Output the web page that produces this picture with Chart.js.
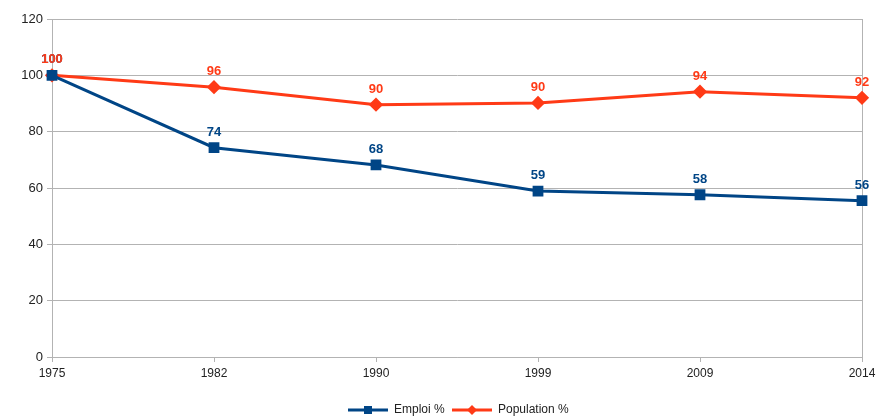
<!DOCTYPE html>
<html>
<head>
<meta charset="utf-8">
<script src="https://cdn.jsdelivr.net/npm/chart.js@4"></script>
<style>
  html, body { margin: 0; padding: 0; background: #fff; }
  #wrap { width: 881px; height: 417px; }
</style>
</head>
<body>
<div id="wrap"><canvas id="myChart" width="881" height="417"></canvas></div>
<script>
const years = ['1975', '1982', '1990', '1999', '2009', '2014'];
const emploi = [100, 74.3, 68.2, 58.9, 57.6, 55.5];
const population = [100, 95.8, 89.6, 90.2, 94.2, 92.0];
const yTicks = [0, 20, 40, 60, 80, 100, 120];

const blue = '#004586';
const red = '#ff3a16';
const gridGray = '#b3b3b3';

// value labels above each point
const pointLabels = {
  id: 'pointLabels',
  afterDatasetsDraw(chart) {
    const ctx = chart.ctx;
    ctx.save();
    ctx.font = 'bold 13px "Liberation Sans", Arial, sans-serif';
    ctx.textAlign = 'center';
    ctx.textBaseline = 'bottom';
    chart.data.datasets.forEach((ds, i) => {
      const meta = chart.getDatasetMeta(i);
      ctx.fillStyle = ds.borderColor;
      meta.data.forEach((pt, j) => {
        ctx.fillText(Math.round(ds.data[j]), pt.x, pt.y - 9);
      });
    });
    ctx.restore();
  }
};

// legend with a line and marker, like the office chart
const lineLegend = {
  id: 'lineLegend',
  afterDraw(chart) {
    const ctx = chart.ctx;
    const y = 410;
    ctx.save();
    ctx.font = '12px "Liberation Sans", Arial, sans-serif';
    ctx.textBaseline = 'middle';
    const items = [
      { label: 'Emploi %', color: blue, shape: 'rect', x: 348 },
      { label: 'Population %', color: red, shape: 'diamond', x: 452 }
    ];
    items.forEach(it => {
      ctx.strokeStyle = it.color;
      ctx.fillStyle = it.color;
      ctx.lineWidth = 3;
      ctx.beginPath();
      ctx.moveTo(it.x, y);
      ctx.lineTo(it.x + 40, y);
      ctx.stroke();
      const cx = it.x + 20;
      if (it.shape === 'rect') {
        ctx.fillRect(cx - 4, y - 4, 8, 8);
      } else {
        ctx.beginPath();
        ctx.moveTo(cx, y - 5);
        ctx.lineTo(cx + 5, y);
        ctx.lineTo(cx, y + 5);
        ctx.lineTo(cx - 5, y);
        ctx.closePath();
        ctx.fill();
      }
      ctx.fillStyle = '#222';
      ctx.fillText(it.label, it.x + 46, y);
    });
    ctx.restore();
  }
};

const config = {
  type: 'line',
  data: {
    labels: years,
    datasets: [
      {
        label: 'Emploi %',
        data: emploi,
        borderColor: blue,
        backgroundColor: blue,
        borderWidth: 3,
        pointStyle: 'rect',
        pointRadius: 5.5,
        pointHoverRadius: 5.5,
        tension: 0
      },
      {
        label: 'Population %',
        data: population,
        borderColor: red,
        backgroundColor: red,
        borderWidth: 3,
        pointStyle: 'rectRot',
        pointRadius: 5,
        pointHoverRadius: 5,
        tension: 0
      }
    ]
  },
  options: {
    responsive: false,
    animation: false,
    layout: { padding: { top: 19, right: 19, left: 0, bottom: 0 } },
    scales: {
      x: {
        offset: false,
        grid: {
          color: ctx => ctx.index === years.length - 1 ? gridGray : 'rgba(0,0,0,0)',
          tickColor: gridGray,
          tickLength: 5
        },
        border: { color: gridGray },
        ticks: {
          color: '#222',
          font: { family: '"Liberation Sans", Arial, sans-serif', size: 12 },
          maxRotation: 0,
          padding: 4
        },
        afterFit(scale) { scale.height = 60; }
      },
      y: {
        min: 0,
        max: 120,
        afterBuildTicks(scale) { scale.ticks = yTicks.map(v => ({ value: v })); },
        grid: { color: gridGray, tickLength: 5 },
        border: { color: gridGray },
        ticks: {
          color: '#222',
          font: { family: '"Liberation Sans", Arial, sans-serif', size: 13 },
          padding: 4
        },
        afterFit(scale) { scale.width = 52; }
      }
    },
    plugins: {
      legend: { display: false },
      tooltip: { enabled: false }
    }
  },
  plugins: [pointLabels, lineLegend]
};

const myChart = new Chart(document.getElementById('myChart'), config);
</script>
</body>
</html>
